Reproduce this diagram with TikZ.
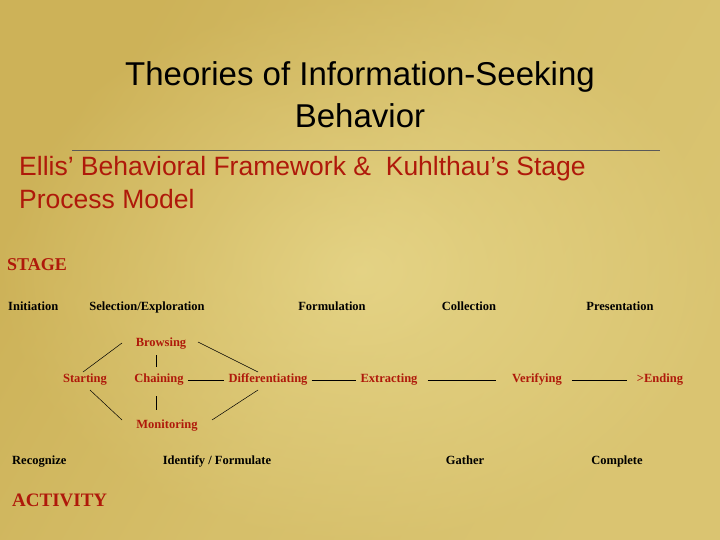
\documentclass[tikz,border=0pt]{standalone}
\usepackage{fontspec}
\setmainfont{Liberation Serif}
\setsansfont{Liberation Sans}
\definecolor{gold}{RGB}{205,178,88}
\definecolor{palegold}{RGB}{232,216,140}
\definecolor{darkred}{RGB}{175,25,10}
\tikzset{
  stage/.style={font=\bfseries\fontsize{12.5}{14}\selectfont,text=black,inner sep=1pt,text height=1.6ex,text depth=.3ex},
  act/.style={font=\bfseries\fontsize{12.5}{14}\selectfont,text=darkred,inner sep=4pt,text height=1.6ex,text depth=.3ex},
  big/.style={font=\bfseries\fontsize{18}{21}\selectfont,text=darkred,inner sep=0pt,anchor=west},
  link/.style={black,line width=0.5pt}
}
\begin{document}
\begin{tikzpicture}[x=1pt,y=-1pt]
  % background
  \shade[left color=gold,right color=palegold,middle color=palegold!70!gold,shading angle=60] (0,0) rectangle (720,540);
  \shade[inner color=palegold,outer color=gold,opacity=0.5] (0,0) rectangle (720,540);
  \useasboundingbox (0,0) rectangle (720,540);

  % titles
  \node[font=\sffamily\fontsize{33}{42}\selectfont,align=center] (title) at (360,95)
    {Theories of Information-Seeking\\Behavior};
  \draw[gray!70!black,line width=0.5pt] (72,150) -- (660,150);
  \node[font=\sffamily\fontsize{26.5}{33}\selectfont,text=darkred,align=left,anchor=north west,inner sep=0pt] (sub) at (19,156)
    {Ellis’ Behavioral Framework \&\ \ Kuhlthau’s Stage\\Process Model};

  % stages
  \node[big] (stagelbl) at (7,265) {STAGE};
  \node[stage,anchor=west] (init) at (7,308) {Initiation};
  \node[stage] (select) at (147,308) {Selection/Exploration};
  \node[stage] (formul) at (332,308) {Formulation};
  \node[stage] (collect) at (469,308) {Collection};
  \node[stage] (present) at (620,308) {Presentation};

  % activities
  \node[act] (brows) at (161,344) {Browsing};
  \node[act] (start) at (85,380) {Starting};
  \node[act] (chain) at (159,380) {Chaining};
  \node[act] (diff) at (268,380) {Differentiating};
  \node[act] (extr) at (389,380) {Extracting};
  \node[act] (verif) at (537,380) {Verifying};
  \node[act] (ending) at (660,380) {>Ending};
  \node[act] (monit) at (167,426) {Monitoring};

  \draw[link] (83,372) -- (122,343);
  \draw[link] (198,342) -- (258,372);
  \draw[link] (156,355) -- (156,367);
  \draw[link] (chain.east) -- (diff.west);
  \draw[link] (diff.east) -- (extr.west);
  \draw[link] ([xshift=6pt]extr.east) -- ([xshift=-12pt]verif.west);
  \draw[link] ([xshift=6pt]verif.east) -- ([xshift=-6pt]ending.west);
  \draw[link] (90,390) -- (122,420);
  \draw[link] (212,420) -- (258,390);
  \draw[link] (156,396) -- (156,410);

  % user activities
  \node[stage,anchor=west] (recog) at (11,462) {Recognize};
  \node[stage] (ident) at (217,462) {Identify / Formulate};
  \node[stage] (gather) at (465,462) {Gather};
  \node[stage] (compl) at (617,462) {Complete};
  \node[big,font=\bfseries\fontsize{19}{22}\selectfont] (actlbl) at (12,500) {ACTIVITY};
\end{tikzpicture}
\end{document}
